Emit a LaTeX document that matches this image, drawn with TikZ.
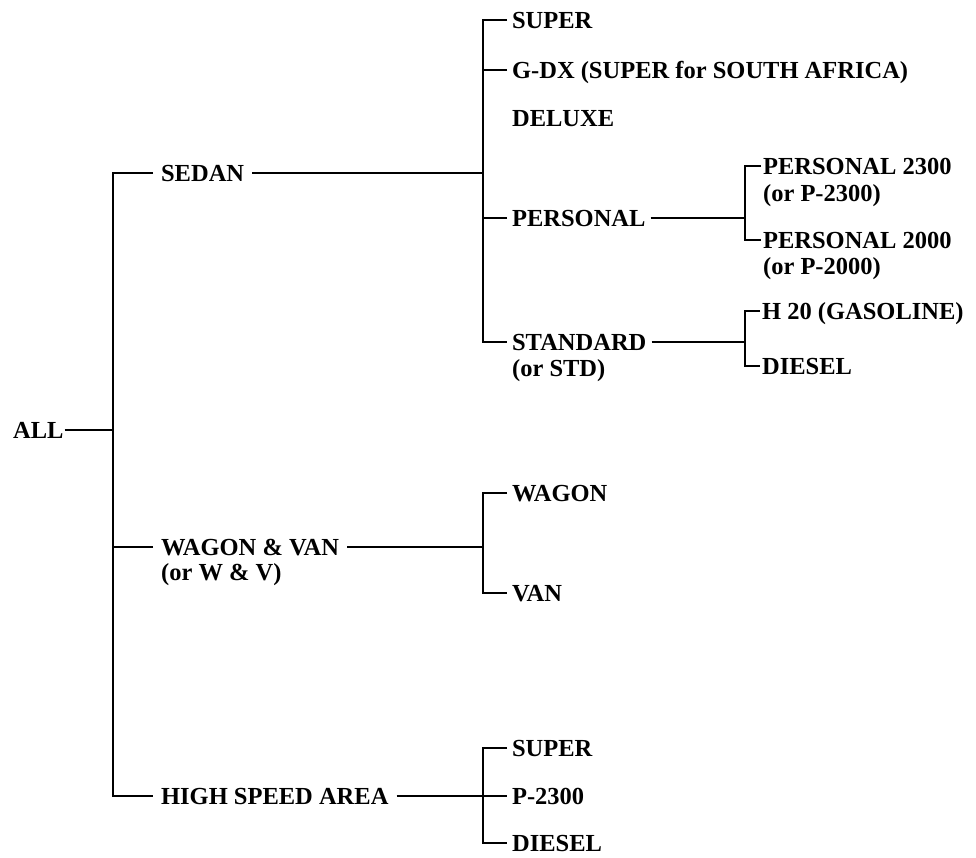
\documentclass[tikz,border=0pt]{standalone}
\usepackage{fontspec}
\setmainfont{Liberation Serif}
\usetikzlibrary{positioning}
\tikzset{l/.style={font=\bfseries\fontsize{24.5}{27}\selectfont, anchor=west,
    inner ysep=0pt, inner xsep=#1, text height=16pt, text depth=0pt},
  l/.default=4pt}

\begin{document}
\begin{tikzpicture}[x=1pt,y=-1pt,line width=2.2pt]
        \useasboundingbox (0,0) rectangle (976,857);
        % first level
        \node[l=0pt] (all) at (12,430) {ALL};
        \node[l=7pt] (sedan) at (153,173) {SEDAN};
        \node[l=7pt] (wv) at (153,547) {WAGON \& VAN};
        \node[l=0pt] (wvnote) at (160,572) {(or W \& V)};
        \node[l=7pt] (hsa) at (153,796) {HIGH SPEED AREA};
        \coordinate (b0) at (113,430);
        \draw (all) -- (b0);
        \draw (sedan) -| (b0) |- (hsa);
        \draw (wv) -- (wv -| b0);
        % sedan
        \coordinate (b1) at (483,173);
        \node[l] (super) at (507,20) {SUPER};
        \node[l] (gdx) at (507,70) {G-DX (SUPER for SOUTH AFRICA)};
        \node[l] (deluxe) at (507,118) {DELUXE};
        \node[l] (pers) at (507,218) {PERSONAL};
        \node[l] (std) at (507,342) {STANDARD};
        \node[l=0pt] (stdnote) at (511,368) {(or STD)};
        \draw (sedan) -- (b1);
        \draw (super) -| (b1) |- (std);
        \draw (gdx) -- (gdx -| b1);
        \draw (pers) -- (pers -| b1);
        % personal
        \coordinate (b2) at (745,218);
        \node[l=1pt] (p23) at (761,166) {PERSONAL 2300};
        \node[l=0pt] (p23note) at (762,193) {(or P-2300)};
        \node[l=1pt] (p20) at (761,240) {PERSONAL 2000};
        \node[l=0pt] (p20note) at (762,266) {(or P-2000)};
        \draw (pers) -- (b2);
        \draw (p23) -| (b2) |- (p20);
        % standard
        \coordinate (b3) at (745,342);
        \node[l=1pt] (h20) at (760,311) {H 20 (GASOLINE)};
        \node[l=1pt] (diesel) at (760,366) {DIESEL};
        \draw (std) -- (b3);
        \draw (h20) -| (b3) |- (diesel);
        % wagon & van
        \coordinate (b4) at (483,547);
        \node[l] (wagon) at (507,493) {WAGON};
        \node[l] (van) at (507,593) {VAN};
        \draw (wv) -- (b4);
        \draw (wagon) -| (b4) |- (van);
        % high speed area
        \coordinate (b5) at (483,796);
        \node[l] (hsup) at (507,748) {SUPER};
        \node[l] (hp23) at (507,796) {P-2300};
        \node[l] (hdsl) at (507,843) {DIESEL};
        \draw (hsa) -- (hp23);
        \draw (hsup) -| (b5) |- (hdsl);
      \end{tikzpicture}
\end{document}
